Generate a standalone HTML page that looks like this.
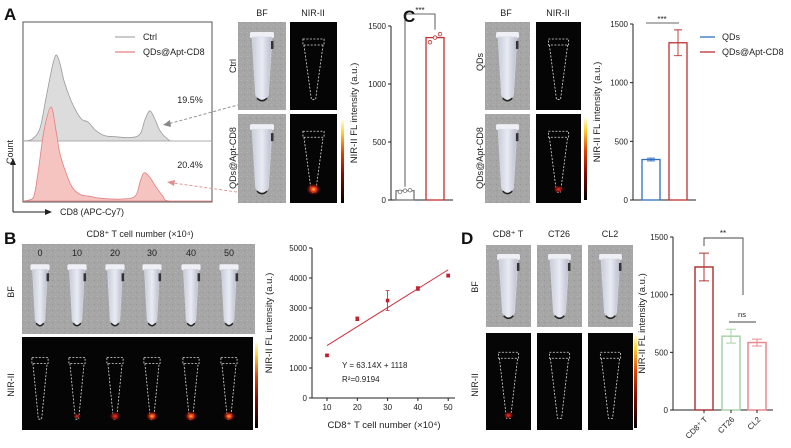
<!DOCTYPE html>
<html><head><meta charset="utf-8">
<style>
html,body{margin:0;padding:0;background:#fff;}
svg{display:block;font-family:"Liberation Sans",Arial,sans-serif;}
</style></head>
<body>
<svg id="fig" width="791" height="448" viewBox="0 0 791 448" xmlns="http://www.w3.org/2000/svg">
<defs>
<linearGradient id="cbar" x1="0" y1="1" x2="0" y2="0">
<stop offset="0" stop-color="#000"/><stop offset="0.35" stop-color="#8a0a00"/><stop offset="0.6" stop-color="#e04000"/><stop offset="0.85" stop-color="#ffd030"/><stop offset="1" stop-color="#ffffe0"/>
</linearGradient>
<radialGradient id="glow"><stop offset="0" stop-color="#ffc040"/><stop offset="0.4" stop-color="#e03010"/><stop offset="1" stop-color="#600000" stop-opacity="0"/></radialGradient>
<radialGradient id="glowdim"><stop offset="0" stop-color="#e04020"/><stop offset="0.5" stop-color="#901010"/><stop offset="1" stop-color="#400000" stop-opacity="0"/></radialGradient>
<linearGradient id="tubeg" x1="0" x2="1"><stop offset="0" stop-color="#c8ccd8"/><stop offset="0.5" stop-color="#e8ebf3"/><stop offset="1" stop-color="#b8bccb"/></linearGradient>
<pattern id="noise" width="6" height="6" patternUnits="userSpaceOnUse"><rect width="6" height="6" fill="#a6a6a6"/><rect x="1" y="2" width="1" height="1" fill="#b8b8b8"/><rect x="4" y="4" width="1" height="1" fill="#939393"/><rect x="3" y="0" width="1" height="1" fill="#b2b2b2"/></pattern>
</defs>
<g id="root"></g>
</svg>
<script>
// ---------- data ----------
const histX = [23,32,40,46,52,56,60,64,70,76,82,88,96,105,115,130,140,145,150,155,160,168,175,212];
const ctrlH = [0,0.02,0.15,0.5,0.85,1.0,0.9,0.7,0.5,0.35,0.25,0.22,0.12,0.06,0.05,0.04,0.08,0.25,0.35,0.25,0.12,0.02,0,0];
const redX = [23,33,38,44,51,56,60,66,72,80,90,100,120,135,140,144,150,156,163,170,212];
const redH = [0,0.03,0.3,0.75,1.0,0.75,0.5,0.3,0.15,0.07,0.05,0.03,0.02,0.05,0.2,0.3,0.25,0.15,0.05,0,0];
const aCats = ["Ctrl","QDs@Apt-CD8"];
const aVals = [80,1400];
const aPts = [[70,80,85],[1360,1400,1430]];
const aTicks = [0,500,1000,1500];
const cCats = ["QDs","QDs@Apt-CD8"];
const cVals = [345,1340];
const cErr = [12,110];
const bX = [10,20,30,40,50];
const bY = [1420,2640,3250,3650,4080];
const bErr = [40,60,330,60,50];
const bYTicks = [0,1000,2000,3000,4000,5000];
const bSlope = 63.14, bIntercept = 1118;
const dCats = ["CD8\u207A T","CT26","CL2"];
const dVals = [1240,640,585];
const dErr = [120,60,30];
const dTicks = [0,500,1000,1500];

const NS="http://www.w3.org/2000/svg";
const root=document.getElementById('root');
function el(tag,attrs,parent,text){const e=document.createElementNS(NS,tag);for(const k in attrs)e.setAttribute(k,attrs[k]);if(text!==undefined)e.textContent=text;(parent||root).appendChild(e);return e;}
function txt(x,y,s,size,anchor,rot,parent,name){const e=el('text',{x:x,y:y,'font-size':size,'text-anchor':anchor||'middle',fill:'#222'},parent,s);if(rot)e.setAttribute('transform','rotate('+rot+' '+x+' '+y+')');

return e;}

// panel letters
[['A',4,20],['B',4,244],['C',403,22],['D',461,244]].forEach(p=>{const t=el('text',{x:p[1],y:p[2],'font-size':17,'font-weight':'bold',fill:'#111'},root,p[0]);

});

// ---------- Panel A histogram ----------
const gA=el('g',{});


el('rect',{x:23,y:22,width:189,height:180,fill:'#fff',stroke:'#555','stroke-width':1},gA);
function hist(xs,hs,base,amp,fill,stroke,name){
const P=xs.map((x,i)=>[x,base-hs[i]*amp]);
let d='M'+P[0][0]+','+base+' L'+P[0][0]+','+P[0][1];
for(let i=0;i<P.length-1;i++){const p0=P[Math.max(0,i-1)],p1=P[i],p2=P[i+1],p3=P[Math.min(P.length-1,i+2)];
const c1=[p1[0]+(p2[0]-p0[0])/6,p1[1]+(p2[1]-p0[1])/6],c2=[p2[0]-(p3[0]-p1[0])/6,p2[1]-(p3[1]-p1[1])/6];
d+=` C${c1[0].toFixed(1)},${Math.min(base,c1[1]).toFixed(1)} ${c2[0].toFixed(1)},${Math.min(base,c2[1]).toFixed(1)} ${p2[0]},${p2[1].toFixed(1)}`;}
d+=' L'+xs[xs.length-1]+','+base+'Z';
const p=el('path',{d:d,fill:fill,stroke:stroke,'stroke-width':0.8},gA);

}
hist(histX,ctrlH,141,86,'#dcdcdc','#9a9a9a','ctrl-histogram');
el('line',{x1:23,y1:141,x2:212,y2:141,stroke:'#aaa','stroke-width':0.8},gA);
hist(redX,redH,201,94,'#f5c4c0','#e08080','qds-histogram');
el('line',{x1:115,y1:37,x2:135,y2:37,stroke:'#aaa','stroke-width':1.2},gA);
txt(143,40,'Ctrl',9,'start',0,gA,'legend-ctrl');
el('line',{x1:115,y1:52,x2:135,y2:52,stroke:'#e08080','stroke-width':1.2},gA);
txt(143,55,'QDs@Apt-CD8',9,'start',0,gA,'legend-qds');
txt(190,103,'19.5%',9,'middle',0,gA,'percent-ctrl');
txt(190,168,'20.4%',9,'middle',0,gA,'percent-qds');
el('line',{x1:13,y1:212,x2:13,y2:163,stroke:'#222','stroke-width':1},gA);
el('path',{d:'M10,165 L13,158 L16,165Z',fill:'#222'},gA);
el('line',{x1:13,y1:212,x2:47,y2:212,stroke:'#222','stroke-width':1},gA);
el('path',{d:'M45,209 L52,212 L45,215Z',fill:'#222'},gA);
txt(60,215,'CD8 (APC-Cy7)',9,'start',0,gA,'x-axis-title');
txt(13,152,'Count',9,'middle',-90,gA,'y-axis-title');
el('line',{x1:245,y1:103,x2:168,y2:124,stroke:'#888','stroke-width':0.9,'stroke-dasharray':'3,2'},gA);
el('path',{d:'M170,120 L163,125 L171,127Z',fill:'#888'},gA);
el('line',{x1:237,y1:192,x2:173,y2:183,stroke:'#e09090','stroke-width':0.9,'stroke-dasharray':'3,2'},gA);
el('path',{d:'M175,180 L167,182 L174,186Z',fill:'#e09090'},gA);

// ---------- tube images ----------
function bfTube(x,y,w,h,name){const g=el('g',{});


el('rect',{x:x,y:y,width:w,height:h,fill:'url(#noise)'},g);
const cx=x+w/2, tw=Math.min(w*0.42,20), top=y+h*0.17, bot=y+h*0.9;
el('rect',{x:cx-tw/2-2,y:top-5,width:tw+4,height:6,rx:1.5,fill:'#eef0f5'},g);
el('path',{d:`M${cx-tw/2},${top} L${cx+tw/2},${top} L${cx+tw*0.32},${bot-6} Q${cx},${bot+3} ${cx-tw*0.32},${bot-6} Z`,fill:'url(#tubeg)',stroke:'#d8dbe4','stroke-width':0.6},g);
el('rect',{x:cx+tw/2-1,y:top+4,width:2.5,height:8,fill:'#333'},g);
el('path',{d:`M${cx-tw*0.25},${bot-3} Q${cx},${bot+2} ${cx+tw*0.25},${bot-3}`,stroke:'#222','stroke-width':1.5,fill:'none'},g);
return g;}
function nirTube(x,y,w,h,glow,name){const g=el('g',{});


el('rect',{x:x,y:y,width:w,height:h,fill:'#050505'},g);
const cx=x+w/2, tw=Math.min(w*0.45,22), top=y+h*0.25, bot=y+h*0.88;
el('rect',{x:cx-tw/2,y:top-5,width:tw,height:6,fill:'none',stroke:'#ddd','stroke-width':0.8,'stroke-dasharray':'2,1.5'},g);
el('path',{d:`M${cx-tw/2+1},${top+1} L${cx-tw*0.1},${bot} L${cx+tw*0.1},${bot} L${cx+tw/2-1},${top+1}`,fill:'none',stroke:'#ddd','stroke-width':0.8,'stroke-dasharray':'2,1.5'},g);
if(glow>0){el('ellipse',{cx:cx,cy:bot-3,rx:6*glow+2,ry:5*glow+1.5,fill:glow>0.6?'url(#glow)':'url(#glowdim)'},g);}
return g;}
function cbar(x,y,h,name){const r=el('rect',{x:x,y:y,width:3,height:h,fill:'url(#cbar)'});

}

// A images
txt(262,16,'BF',9,'middle',0,root,'col-bf');txt(313,16,'NIR-II',9,'middle',0,root,'col-nir');
bfTube(238,22,48,88,'a-bf-ctrl');nirTube(290,22,47,88,0,'a-nir-ctrl');
bfTube(238,114,48,89,'a-bf-qds');nirTube(290,114,47,89,0.9,'a-nir-qds');
cbar(341,120,83,'a-colorbar');
txt(236,66,'Ctrl',9,'middle',-90,root,'row-ctrl');txt(236,158,'QDs@Apt-CD8',9,'middle',-90,root,'row-qds');

// C images
txt(506,16,'BF',9,'middle',0,root,'c-col-bf');txt(558,16,'NIR-II',9,'middle',0,root,'c-col-nir');
bfTube(485,22,45,88,'c-bf-qds');nirTube(536,22,45,88,0,'c-nir-qds');
bfTube(485,114,45,89,'c-bf-apt');nirTube(536,114,45,89,0.5,'c-nir-apt');
cbar(584,118,82,'c-colorbar');
txt(483,62,'QDs',9,'middle',-90,root,'c-row-qds');txt(483,158,'QDs@Apt-CD8',9,'middle',-90,root,'c-row-apt');

// B images
txt(140,237,'CD8\u207A T cell number (\u00D710\u2074)',9,'middle',0,root,'b-title');
const gBb=el('g',{});
el('rect',{x:22,y:244,width:233,height:90,fill:'url(#noise)'},gBb);
const tubeXs=[40,77,115,152,191,229];const labs=['0','10','20','30','40','50'];const glows=[0,0.25,0.6,0.7,0.75,0.7];
el('rect',{x:22,y:337,width:231,height:93,fill:'#050505'});
tubeXs.forEach((cx,i)=>{bfTube(cx-18,256,36,78,'b-bf-tube-'+labs[i]).querySelector('rect').setAttribute('fill','none');
nirTube(cx-18,340,36,90,glows[i],'b-nir-tube-'+labs[i]).querySelector('rect').setAttribute('fill','none');
txt(cx,256,labs[i],9,'middle',0,root,'b-count-'+labs[i]);});
cbar(255,342,86,'b-colorbar');
txt(14,292,'BF',9,'middle',-90,root,'b-row-bf');txt(14,385,'NIR-II',9,'middle',-90,root,'b-row-nir');

// D images
dCats.forEach((c,i)=>{const x=[486,537,588][i];txt(x+22,237,c,9,'middle',0,root,'d-col-'+i);
bfTube(x,245,45,82,'d-bf-'+i);nirTube(x,333,45,97,i===0?0.5:0,'d-nir-'+i);});
cbar(634,335,93,'d-colorbar');
txt(478,287,'BF',9,'middle',-90,root,'d-row-bf');txt(478,385,'NIR-II',9,'middle',-90,root,'d-row-nir');

// ---------- axis helper ----------
function yAxis(g,x,y0,y1,max,ticks,title,tx){const ys=v=>y0-(v/max)*(y0-y1);
el('line',{x1:x,y1:y0,x2:x,y2:y1,stroke:'#222','stroke-width':1},g);
ticks.forEach(t=>{el('line',{x1:x-3,y1:ys(t),x2:x,y2:ys(t),stroke:'#222'},g);txt(x-5,ys(t)+3,String(t),8,'end',0,g,'y-tick-'+t);});
txt(tx,(y0+y1)/2,title,9.5,'middle',-90,g,'y-axis-title');return ys;}

// ---------- A bar chart ----------
const gAc=el('g',{});
const aY=yAxis(gAc,391,200,26,1500,aTicks,'NIR-II FL intensity (a.u.)',357);
el('line',{x1:391,y1:200,x2:453,y2:200,stroke:'#222'},gAc);
const aBx=[396,426],aCol=['#777','#c03030'];
aVals.forEach((v,i)=>{const r=el('rect',{x:aBx[i],y:aY(v),width:18,height:200-aY(v),fill:'#fff',stroke:aCol[i],'stroke-width':1.3},gAc);


aPts[i].forEach((p,j)=>el('circle',{cx:aBx[i]+4+j*5,cy:aY(p),r:1.8,fill:'#fff',stroke:aCol[i],'stroke-width':0.8},gAc));});
el('path',{d:'M405,'+(aY(aVals[0])-4)+' L405,14 L435,14 L435,'+(aY(aVals[1])-8),fill:'none',stroke:'#333','stroke-width':0.8},gAc);
txt(420,13,'***',8,'middle',0,gAc,'a-significance');

// ---------- C bar chart ----------
const gCc=el('g',{});
const cY=yAxis(gCc,633,200,24,1500,aTicks,'NIR-II FL intensity (a.u.)',600);
el('line',{x1:633,y1:200,x2:696,y2:200,stroke:'#222'},gCc);
const cBx=[642,669],cCol=['#3070c0','#c03030'];
cVals.forEach((v,i)=>{const r=el('rect',{x:cBx[i],y:cY(v),width:18,height:200-cY(v),fill:'#fff',stroke:cCol[i],'stroke-width':1.3},gCc);


const cx=cBx[i]+9;el('path',{d:`M${cx},${cY(v+cErr[i])} L${cx},${cY(v-cErr[i])} M${cx-4},${cY(v+cErr[i])} L${cx+4},${cY(v+cErr[i])} M${cx-4},${cY(v-cErr[i])} L${cx+4},${cY(v-cErr[i])}`,stroke:cCol[i],'stroke-width':0.9},gCc);
el('line',{x1:700,y1:37+i*15,x2:715,y2:37+i*15,stroke:cCol[i],'stroke-width':1.3},gCc);
txt(722,40+i*15,cCats[i],9,'start',0,gCc,'legend-'+cCats[i]);});
el('line',{x1:646,y1:23,x2:679,y2:23,stroke:'#333','stroke-width':0.8},gCc);
txt(662,22,'***',8,'middle',0,gCc,'c-significance');

// ---------- B scatter ----------
const gBc=el('g',{});
const bYs=yAxis(gBc,312,398,248,5000,bYTicks,'NIR-II FL intensity (a.u.)',272);
const bXs=v=>327+(v-10)*3.03;
el('line',{x1:312,y1:398,x2:455,y2:398,stroke:'#222'},gBc);
bX.forEach(v=>{el('line',{x1:bXs(v),y1:398,x2:bXs(v),y2:401,stroke:'#222'},gBc);txt(bXs(v),410,String(v),8,'middle',0,gBc,'x-tick-'+v);});
txt(384,428,'CD8\u207A T cell number (\u00D710\u2074)',9.5,'middle',0,gBc,'x-axis-title');
const fl=el('line',{x1:bXs(10),y1:bYs(bSlope*10+bIntercept),x2:bXs(50),y2:bYs(bSlope*50+bIntercept),stroke:'#d03040','stroke-width':1},gBc);

bX.forEach((v,i)=>{const cx=bXs(v);el('path',{d:`M${cx},${bYs(bY[i]+bErr[i])} L${cx},${bYs(bY[i]-bErr[i])} M${cx-2},${bYs(bY[i]+bErr[i])} L${cx+2},${bYs(bY[i]+bErr[i])} M${cx-2},${bYs(bY[i]-bErr[i])} L${cx+2},${bYs(bY[i]-bErr[i])}`,stroke:'#c02030','stroke-width':0.8},gBc);
const p=el('rect',{x:cx-1.8,y:bYs(bY[i])-1.8,width:3.6,height:3.6,fill:'#c02030'},gBc);
});
txt(342,368,'Y = 63.14X + 1118',8,'start',0,gBc,'fit-equation');
txt(342,382,'R\u00B2=0.9194',8,'start',0,gBc,'r-squared');

// ---------- D bar chart ----------
const gDc=el('g',{});
const dY=yAxis(gDc,673,410,237,1500,dTicks,'NIR-II FL intensity (a.u.)',645);
el('line',{x1:673,y1:410,x2:773,y2:410,stroke:'#222'},gDc);
const dBx=[695,722,748],dCol=['#b03838','#a8d4a8','#e88890'];
dVals.forEach((v,i)=>{const r=el('rect',{x:dBx[i],y:dY(v),width:18,height:410-dY(v),fill:'#fff',stroke:dCol[i],'stroke-width':1.5},gDc);

const cx=dBx[i]+9;el('path',{d:`M${cx},${dY(v+dErr[i])} L${cx},${dY(v-dErr[i])} M${cx-5},${dY(v+dErr[i])} L${cx+5},${dY(v+dErr[i])} M${cx-5},${dY(v-dErr[i])} L${cx+5},${dY(v-dErr[i])}`,stroke:dCol[i],'stroke-width':1},gDc);
el('line',{x1:cx,y1:410,x2:cx,y2:413,stroke:'#222'},gDc);
txt(cx+4,420,dCats[i],8,'end',-45,gDc,'x-tick-'+i);});
el('path',{d:'M704,246 L704,238 L743,238 L743,295',fill:'none',stroke:'#444','stroke-width':0.9},gDc);
txt(723,236,'**',8,'middle',0,gDc,'d-significance-1');
el('line',{x1:729,y1:322,x2:756,y2:322,stroke:'#444','stroke-width':0.9},gDc);
txt(742,317,'ns',7.5,'middle',0,gDc,'d-significance-2');
</script>
</body></html>
